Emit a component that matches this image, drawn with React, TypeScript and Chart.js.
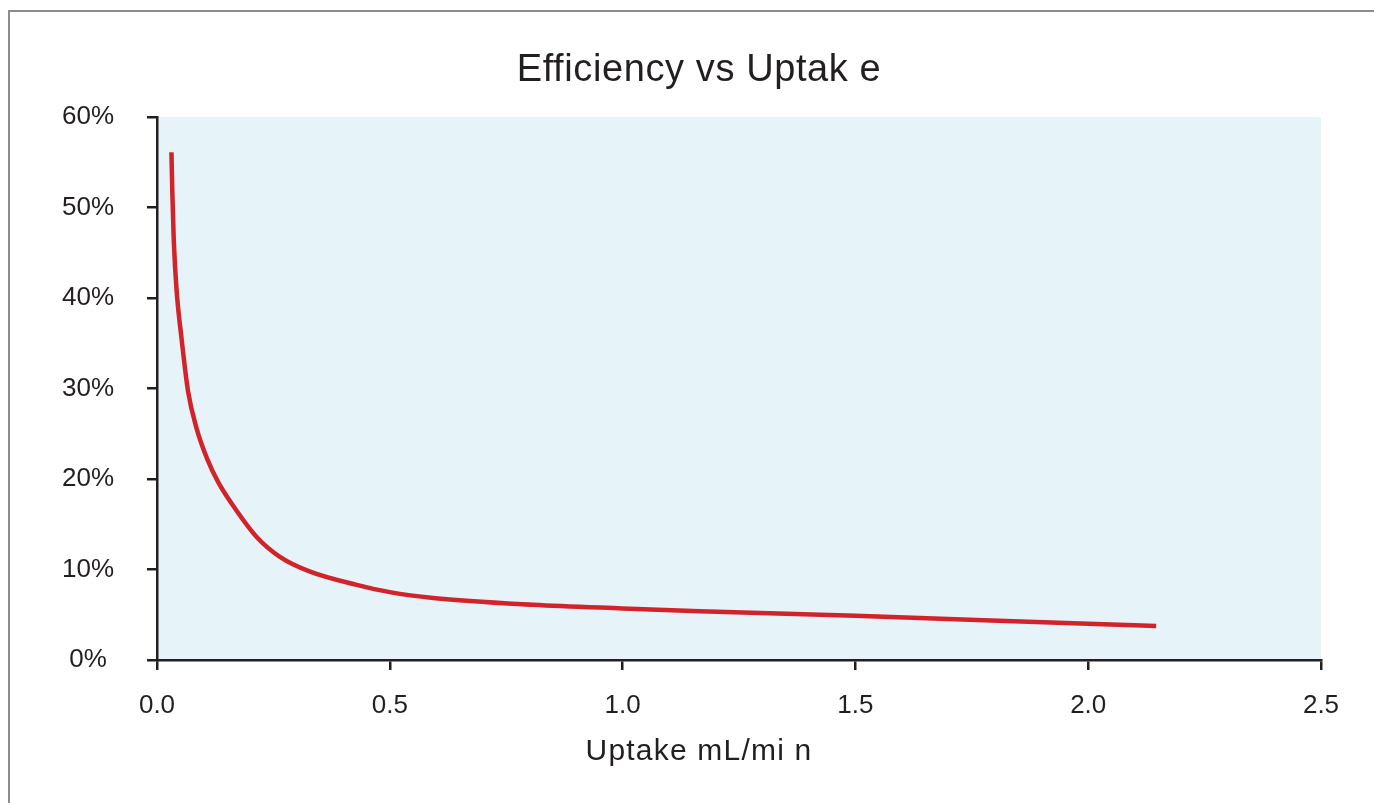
import React, { useEffect, useRef } from "react";
import { Chart, registerables } from "chart.js";

Chart.register(...registerables);

const uptake = [0.031, 0.033, 0.036, 0.042, 0.053, 0.067, 0.085, 0.108, 0.132, 0.171, 0.214, 0.264, 0.329, 0.429, 0.5, 0.593, 0.808, 1.0, 1.166, 1.5, 2.0, 2.146];
const efficiency = [56.1, 51.5, 46.4, 40.9, 35.4, 29.6, 25.6, 22.2, 19.6, 16.5, 13.6, 11.4, 9.76, 8.3, 7.5, 6.85, 6.1, 5.7, 5.4, 4.9, 4.0, 3.76];
const xTicks = [0, 0.5, 1.0, 1.5, 2.0, 2.5];
const yTicks = [0, 10, 20, 30, 40, 50, 60];

const titleText = "Efficiency vs Uptak e";
const xTitleText = "Uptake mL/mi n";

const FONT = "'Liberation Sans', Arial, Helvetica, sans-serif";
const INK = "#231f20";

const bgPlugin = {
  id: "plotBg",
  beforeDraw(chart: any) {
    const { ctx, chartArea } = chart;
    ctx.save();
    ctx.fillStyle = "#e6f3f9";
    ctx.fillRect(chartArea.left, chartArea.top, chartArea.right - chartArea.left, chartArea.bottom - chartArea.top);
    ctx.restore();
  },
};

const titlesPlugin = {
  id: "spacedTitles",
  afterDraw(chart: any) {
    const { ctx } = chart;
    ctx.save();
    ctx.fillStyle = INK;
    ctx.textAlign = "center";
    ctx.textBaseline = "alphabetic";
    (ctx as any).letterSpacing = "0.6px";
    ctx.font = `normal 38px ${FONT}`;
    ctx.fillText(titleText, 699, 81);
    (ctx as any).letterSpacing = "1.2px";
    ctx.font = `normal 30px ${FONT}`;
    ctx.fillText(xTitleText, 699, 760);
    (ctx as any).letterSpacing = "0px";
    ctx.restore();
  },
};

export default function App() {
  const ref = useRef<HTMLCanvasElement>(null);

  useEffect(() => {
    if (!ref.current) return;
    const chart = new Chart(ref.current, {
      type: "line",
      data: {
        datasets: [
          {
            data: uptake.map((x, i) => ({ x, y: efficiency[i] })),
            borderColor: "#d2232a",
            borderWidth: 4.5,
            pointRadius: 0,
            cubicInterpolationMode: "monotone",
            fill: false,
          },
        ],
      },
      options: {
        responsive: false,
        animation: false,
        layout: { padding: { left: 0, right: 53, top: 117, bottom: 0 } },
        plugins: {
          legend: { display: false },
          tooltip: { enabled: false },
          title: { display: false },
        },
        scales: {
          x: {
            type: "linear",
            min: 0,
            max: 2.5,
            afterBuildTicks: (s: any) => {
              s.ticks = xTicks.map((v) => ({ value: v }));
            },
            afterFit: (s: any) => {
              s.height = 143;
            },
            ticks: {
              color: INK,
              font: { family: FONT, size: 26 },
              padding: 20,
              maxRotation: 0,
              callback: (v: any) => Number(v).toFixed(1),
            },
            grid: {
              drawOnChartArea: false,
              drawTicks: true,
              tickLength: 10,
              tickColor: INK,
              lineWidth: 2.5,
            },
            border: { display: true, color: INK, width: 2.5 },
          },
          y: {
            type: "linear",
            min: 0,
            max: 60,
            afterBuildTicks: (s: any) => {
              s.ticks = yTicks.map((v) => ({ value: v }));
            },
            afterFit: (s: any) => {
              s.width = 157;
            },
            ticks: {
              color: INK,
              font: { family: FONT, size: 26 },
              padding: 33,
              crossAlign: "center",
              callback: (v: any) => v + "%",
            },
            grid: {
              drawOnChartArea: false,
              drawTicks: true,
              tickLength: 10,
              tickColor: INK,
              lineWidth: 2.5,
            },
            border: { display: true, color: INK, width: 2.5 },
          },
        },
      },
      plugins: [bgPlugin, titlesPlugin],
    });
    return () => chart.destroy();
  }, []);

  return (
    <div>
      <div
        style={{
          position: "absolute",
          left: 8,
          top: 10,
          width: 1420,
          height: 840,
          border: "2px solid #8a8c8e",
          boxSizing: "border-box",
        }}
      />
      <canvas
        ref={ref}
        width={1374}
        height={803}
        style={{ position: "absolute", left: 0, top: 0, width: 1374, height: 803 }}
      />
    </div>
  );
}
